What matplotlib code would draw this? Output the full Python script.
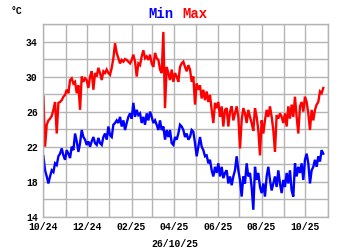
import pandas as pd
import matplotlib
matplotlib.use("Agg")
import matplotlib.pyplot as plt

# daily min / max temperature (°C), ~every 2-3 days
t_max = [
    27.7, 22.0, 24.5, 25.0, 25.2, 25.5, 26.2, 27.1, 23.5, 27.0,
    27.1, 27.3, 27.7, 27.9, 28.5, 28.1, 29.6, 29.8, 29.2, 29.4,
    28.1, 29.0, 26.2, 30.0, 29.4, 29.8, 29.6, 28.7, 30.0, 30.6,
    28.5, 30.4, 30.0, 31.0, 30.4, 29.6, 30.6, 30.4, 30.8, 30.4,
    30.2, 31.0, 32.1, 33.8, 32.7, 32.1, 31.5, 31.9, 31.7, 32.0,
    31.9, 31.7, 31.5, 31.9, 32.5, 31.7, 30.0, 31.5, 31.3, 32.3,
    33.0, 32.1, 32.3, 31.9, 32.5, 31.5, 31.1, 32.7, 32.1, 31.9,
    30.8, 30.4, 35.1, 26.4, 31.1, 30.4, 29.6, 30.8, 29.4, 30.4,
    30.0, 29.4, 31.1, 31.5, 31.7, 31.1, 30.6, 31.3, 30.8, 29.4,
    30.0, 26.8, 29.2, 28.5, 29.0, 27.5, 28.5, 27.3, 28.3, 27.1,
    27.9, 26.2, 24.7, 27.0, 26.4, 27.1, 25.4, 26.6, 24.3, 26.2,
    26.4, 24.3, 26.0, 26.6, 25.0, 25.8, 26.6, 25.4, 21.8, 25.0,
    26.4, 25.8, 24.7, 26.2, 25.4, 24.7, 23.8, 26.4, 25.4, 23.9,
    21.0, 25.0, 23.5, 25.0, 26.2, 25.4, 26.6, 25.4, 23.9, 21.4,
    25.6, 25.2, 25.8, 25.4, 24.7, 25.8, 24.3, 26.6, 25.2, 26.8,
    25.4, 27.7, 25.4, 23.5, 26.6, 27.1, 26.0, 27.7, 27.1, 25.8,
    23.9, 26.2, 25.0, 26.2, 26.8, 27.1, 28.3, 28.1, 28.7,
]
t_min = [
    20.9, 19.3, 18.6, 17.8, 18.6, 19.3, 19.1, 20.1, 19.9, 20.9,
    21.2, 21.8, 21.0, 20.5, 21.6, 21.2, 20.7, 22.0, 21.6, 23.5,
    22.6, 21.4, 22.4, 23.9, 23.1, 22.8, 22.2, 22.6, 22.0, 22.6,
    23.1, 22.4, 22.2, 23.0, 22.4, 22.2, 23.1, 23.5, 22.8, 24.3,
    23.3, 23.1, 24.5, 24.7, 25.0, 24.7, 25.4, 24.3, 25.0, 23.9,
    24.7, 25.4, 25.8, 25.2, 27.0, 25.4, 26.2, 25.6, 25.8, 24.7,
    25.4, 24.5, 25.8, 25.0, 26.0, 25.4, 24.7, 25.0, 24.5, 23.9,
    25.0, 23.9, 24.3, 22.8, 23.9, 23.1, 23.9, 22.4, 22.2, 23.1,
    22.8, 23.5, 24.5, 24.3, 23.9, 23.1, 23.5, 22.8, 23.1, 23.9,
    23.7, 22.4, 20.9, 22.0, 23.1, 22.0, 21.6, 20.9, 21.0, 20.1,
    20.5, 19.3, 18.6, 19.7, 19.0, 20.1, 18.6, 19.7, 18.4, 19.0,
    19.3, 17.8, 18.6, 17.6, 18.6, 19.3, 20.9, 19.3, 18.2, 16.3,
    18.6, 17.8, 20.1, 18.6, 19.0, 17.4, 14.8, 19.7, 18.2, 19.0,
    17.4, 16.7, 17.8, 16.3, 18.6, 19.7, 18.2, 17.0, 17.8, 18.6,
    17.4, 19.3, 17.8, 16.7, 18.2, 17.4, 19.0, 17.8, 19.3, 17.0,
    16.3, 20.1, 18.6, 19.7, 19.0, 20.1, 18.2, 20.5, 21.2, 20.1,
    17.8, 19.3, 19.7, 20.5, 19.7, 20.9, 20.3, 21.6, 21.2,
]
dates = pd.date_range("2024-10-01", "2025-10-26", periods=len(t_max))
months = pd.date_range("2024-10-01", "2025-11-01", freq="MS")
month_labels = [m.strftime("%m/%y") if i % 2 == 0 else "" for i, m in enumerate(months)]
y_ticks = list(range(14, 37, 2))
y_labels = [str(v) if v % 4 == 2 else "" for v in y_ticks]

mono = "Liberation Mono"
grid_col = "#b4b4b4"

fig = plt.figure(figsize=(3.5, 2.5), dpi=100)
ax = fig.add_axes([0.124, 0.133, 0.812, 0.771])

ax.plot(dates, t_max, color="#ff0000", lw=1.7, solid_joinstyle="miter")
ax.plot(dates, t_min, color="#0000ff", lw=1.7, solid_joinstyle="miter")

ax.set_xlim(months[0], months[-1])
ax.set_ylim(14, 36)
ax.set_xticks(months)
ax.set_xticklabels(month_labels)
ax.set_yticks(y_ticks)
ax.set_yticklabels(y_labels)
ax.tick_params(length=0, pad=4, labelsize=7)
for lbl in ax.get_xticklabels() + ax.get_yticklabels():
    lbl.set_fontfamily(mono)
    lbl.set_fontweight("bold")
ax.grid(True, color=grid_col, lw=1.0)
ax.set_axisbelow(True)
for s in ax.spines.values():
    s.set_color(grid_col)
    s.set_linewidth(1.0)

fig.text(0.03, 0.975, "°C", fontsize=7, fontweight="bold", family=mono, va="top")
fig.text(0.497, 0.97, "Min", color="#0000ff", fontsize=10, fontweight="bold",
         family=mono, ha="right", va="top")
fig.text(0.522, 0.97, "Max", color="#ff0000", fontsize=10, fontweight="bold",
         family=mono, ha="left", va="top")
fig.text(0.5, 0.005, "26/10/25", fontsize=7, fontweight="bold", family=mono,
         ha="center", va="bottom")

fig.savefig("out.png", dpi=100)
